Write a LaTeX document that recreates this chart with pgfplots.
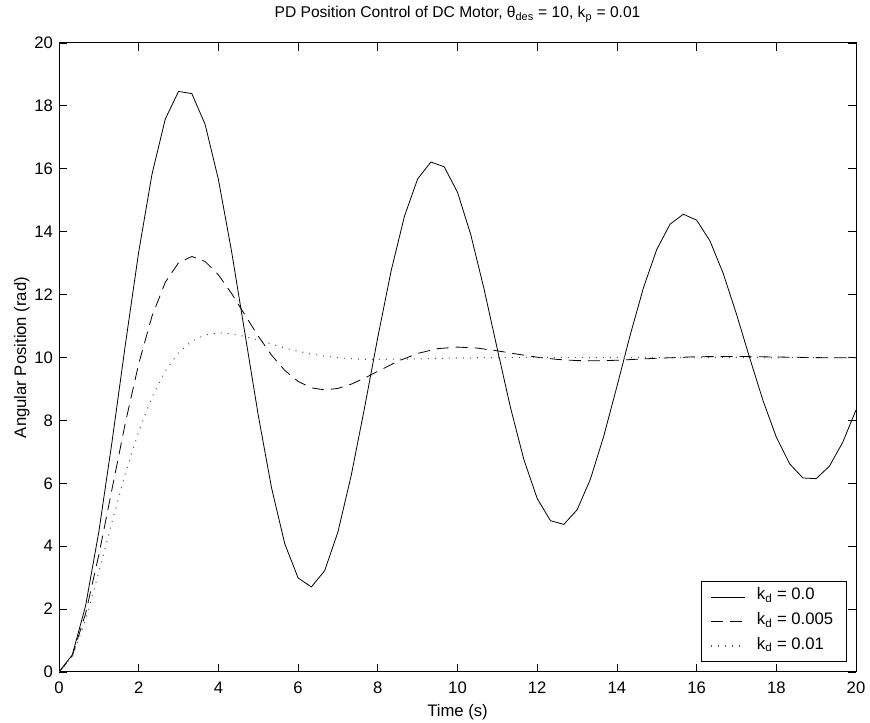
\documentclass[border=0pt]{standalone}
\usepackage{fontspec}
\setmainfont{Liberation Sans}
\usepackage{pgfplots}
\pgfplotsset{compat=1.18}
\usepackage{pgfplotstable}

\pgfplotstableread{
t y
0 0
0.3333 0.546
0.6667 2.100
1.0000 4.460
1.3333 7.345
1.6667 10.423
2.0000 13.354
2.3333 15.825
2.6667 17.583
3.0000 18.460
3.3333 18.390
3.6667 17.412
4.0000 15.661
4.3333 13.354
4.6667 10.757
5.0000 8.164
5.3333 5.855
5.6667 4.072
6.0000 2.990
6.3333 2.705
6.6667 3.221
7.0000 4.456
7.3333 6.252
7.6667 8.396
8.0000 10.644
8.3333 12.748
8.6667 14.485
9.0000 15.678
9.3333 16.216
9.6667 16.062
10.0000 15.254
10.3333 13.903
10.6667 12.173
11.0000 10.263
11.3333 8.388
11.6667 6.748
12.0000 5.516
12.3333 4.811
12.6667 4.692
13.0000 5.153
13.3333 6.125
13.6667 7.486
14.0000 9.075
14.3333 10.712
14.6667 12.219
15.0000 13.435
15.3333 14.238
15.6667 14.556
16.0000 14.368
16.3333 13.712
16.6667 12.675
17.0000 11.382
17.3333 9.981
17.6667 8.628
18.0000 7.468
18.3333 6.621
18.6667 6.169
19.0000 6.147
19.3333 6.545
19.6667 7.304
20.0000 8.331
}\solid

\pgfplotstableread{
t y
0 0
0.3333 0.511
0.6667 1.853
1 3.726
1.3333 5.836
1.6667 7.929
2 9.801
2.3333 11.313
2.6667 12.389
3 13.012
3.3333 13.212
3.6667 13.054
4 12.628
4.3333 12.029
4.6667 11.352
5 10.679
5.3333 10.076
5.6667 9.588
6 9.239
6.3333 9.036
6.6667 8.969
7 9.017
7.3333 9.152
7.6667 9.344
8 9.561
8.5 9.878
9 10.129
9.5 10.281
10 10.331
10.5 10.298
11 10.212
11.5 10.107
12 10.010
12.5 9.939
13 9.901
13.5 9.895
14 9.912
15 9.976
16 10.025
17 10.033
18 10.015
19 9.996
20 9.989
}\dashedd

\pgfplotstableread{
t y
0 0
0.3333 0.481
0.6667 1.653
1 3.173
1.3333 4.786
1.6667 6.314
2 7.649
2.3333 8.738
2.6667 9.567
3 10.151
3.3333 10.520
3.6667 10.717
4 10.781
4.3333 10.753
4.6667 10.667
5 10.551
5.3333 10.425
5.6667 10.304
6 10.197
6.3333 10.109
6.6667 10.042
7 9.993
7.3333 9.962
7.6667 9.945
8 9.939
9 9.956
10 9.984
11 10.000
12 10.005
13 10.002
14 10.000
20 10.000
}\dotted

\begin{document}
\begin{tikzpicture}
\begin{axis}[
  scale only axis,
  width=597.75pt, height=471.75pt,
  xmin=0, xmax=20, ymin=0, ymax=20,
  xtick={0,2,...,20}, ytick={0,2,...,20},
  tick align=inside, tick pos=both,
  major tick length=6pt,
  axis line style={line width=0.75pt},
  major tick style={black, line width=0.6pt},
  /pgf/number format/assume math mode=true,
  tick label style={font=\fontsize{12.5}{15}\selectfont},
  xticklabel style={yshift=-4pt},
  yticklabel style={xshift=-1pt},
  label style={font=\fontsize{12.5}{15}\selectfont},
  xlabel={Time (s)},
  xlabel style={at={(axis description cs:0.5,-0.070)}, anchor=base},
  ylabel={Angular Position (rad)},
  ylabel style={at={(axis description cs:-0.0414,0.5)}, anchor=base},
  title={PD Position Control of DC Motor, θ\textsubscript{des} = 10, k\textsubscript{p} = 0.01},
  title style={at={(axis description cs:0.5,1)}, anchor=base, yshift=13pt, font=\fontsize{11.7}{14}\selectfont},
  legend cell align=left,
  legend image code/.code={\draw[#1] (0pt,0pt) -- (25.5pt,0pt);},
  legend style={at={(axis description cs:0.9887,0.0159)}, anchor=south east,
    draw=black, line width=0.75pt, fill=white,
    inner xsep=7pt, inner ysep=4.85pt,
    font=\fontsize{12.5}{15}\selectfont,
    row sep=4.9pt, column sep=5.25pt,
    nodes={inner xsep=3pt, inner ysep=0pt, text height=9pt, text depth=4.5pt}},
]
\addplot[black, line width=0.6pt] table[x=t,y=y] {\solid};
\addlegendentry{k\textsubscript{d} = 0.0}
\addplot[black, line width=0.6pt, dash pattern=on 9pt off 5.25pt] table[x=t,y=y] {\dashedd};
\addlegendentry{k\textsubscript{d} = 0.005}
\addplot[black!65, line width=0.8pt, dash pattern=on 0.75pt off 4.5pt] table[x=t,y=y] {\dotted};
\addlegendentry{k\textsubscript{d} = 0.01}
\coordinate (SW) at (rel axis cs:0,0);
\coordinate (NE) at (rel axis cs:1,1);
\end{axis}
\pgfresetboundingbox
\path[use as bounding box] ([xshift=-44.25pt,yshift=-38.25pt]SW) rectangle ([xshift=10.5pt,yshift=32.25pt]NE);
\end{tikzpicture}
\end{document}
